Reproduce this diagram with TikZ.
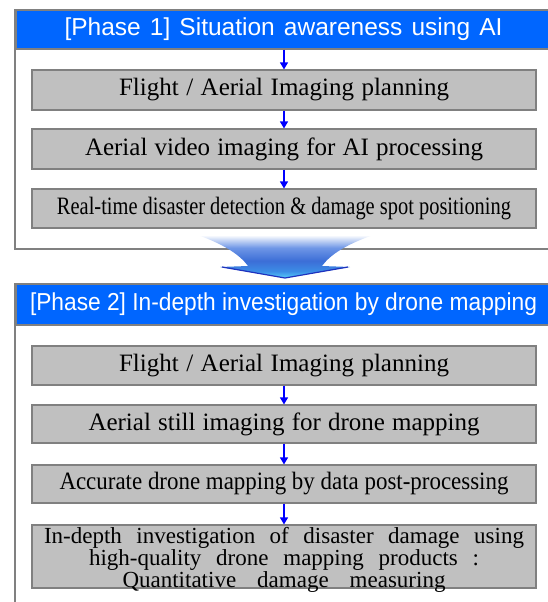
\documentclass[tikz,border=0pt]{standalone}
\usepackage{fontspec}
\setmainfont{Liberation Serif}
\newfontfamily\hdrfont{Liberation Sans}
\usepackage{graphicx}
\usetikzlibrary{arrows.meta}
\definecolor{hdrblue}{RGB}{0,102,255}
\definecolor{boxgray}{RGB}{192,192,192}
\definecolor{linegray}{RGB}{128,128,128}
\definecolor{flowblue}{RGB}{0,0,255}
\definecolor{bigA}{RGB}{85,205,250}
\definecolor{bigB}{RGB}{60,140,230}
\definecolor{bigC}{RGB}{60,110,215}
\definecolor{bigD}{RGB}{110,150,230}
\definecolor{bigedge}{RGB}{30,50,190}
\pgfdeclareverticalshading{bigarrowshade}{100bp}{color(0bp)=(bigA); color(25bp)=(bigA); color(33bp)=(bigB); color(45bp)=(bigC); color(60bp)=(bigD); color(75bp)=(white); color(100bp)=(white)}
\newsavebox\fitbox
\newcommand\fitw[2]{\sbox\fitbox{#2}\ifdim\wd\fitbox>#1\relax\pgfmathsetmacro\fitr{#1/\the\wd\fitbox}\scalebox{\fitr}[1]{\usebox\fitbox}\else\makebox[#1][s]{#2}\fi}
\tikzset{
  panel/.style={draw=linegray, line width=1.5pt, fill=white},
  hdr/.style={draw=linegray, line width=1.5pt, fill=hdrblue, text=white, minimum width=535pt, minimum height=39pt, inner sep=0pt, font=\hdrfont\fontsize{24.5}{26}\selectfont},
  stepbox/.style={draw=linegray, line width=1.2pt, fill=boxgray, minimum width=504pt, inner sep=0pt, font=\fontsize{25}{27}\selectfont},
  flow/.style={draw=flowblue, line width=1.3pt, -{Triangle[width=8pt,length=7pt]}, shorten >=0pt}
}
\begin{document}
\begin{tikzpicture}[x=1pt,y=-1pt]
\useasboundingbox (0,0) rectangle (548,602);
% panels
\draw[panel] (15,10) rectangle (552,249);
\draw[panel] (15,284) rectangle (552,612);
% headers
\node[hdr] (h1) at (283.5,29.5) {\fitw{438pt}{[Phase 1] Situation awareness using AI}};
\node[hdr, minimum height=41pt] (h2) at (283.5,304.5) {\fitw{507pt}{[Phase 2] In-depth investigation by drone mapping}};
% phase 1 steps
\node[stepbox, minimum height=40pt] (a1) at (284,90) {\fitw{330pt}{Flight / Aerial Imaging planning}};
\node[stepbox, minimum height=40pt] (a2) at (284,149) {\fitw{398pt}{Aerial video imaging for AI processing}};
\node[stepbox, minimum height=39pt] (a3) at (284,208.5) {\fitw{454pt}{Real-time disaster detection \& damage spot positioning}};
% phase 2 steps
\node[stepbox, minimum height=39pt] (b1) at (284,365.5) {\fitw{330pt}{Flight / Aerial Imaging planning}};
\node[stepbox, minimum height=38pt] (b2) at (284,424) {\fitw{391pt}{Aerial still imaging for drone mapping}};
\node[stepbox, minimum height=38pt] (b3) at (284,484) {\fitw{449pt}{Accurate drone mapping by data post-processing}};
\node[stepbox, minimum height=63pt] (b4) at (284,556.5) {};
\node[align=center, inner sep=0pt, yshift=-3.5pt, font=\fontsize{23}{17.5}\selectfont] (b4t) at (b4.center)
  {\fitw{480pt}{In-depth investigation of disaster damage using}\\\fitw{390pt}{high-quality drone mapping products :}\\\fitw{323pt}{Quantitative damage measuring}};
% flow arrows
\draw[flow] (h1.south -| a1.north) -- (a1.north);
\draw[flow] (a1) -- (a2);
\draw[flow] (a2) -- (a3);
\draw[flow] (b1) -- (b2);
\draw[flow] (b2) -- (b3);
\draw[flow] (b3) -- (b4);
% big transition arrow
\shade[shading=bigarrowshade]
  (198,235) .. controls (225,245) and (240,255) .. (248,266)
  -- (220,267) -- (285,278) -- (350,267) -- (322,266)
  .. controls (330,255) and (345,245) .. (373,235) -- cycle;
\draw[bigedge, line width=1.2pt, line join=round] (222,267) -- (285,278) -- (348,267);
\end{tikzpicture}
\end{document}
